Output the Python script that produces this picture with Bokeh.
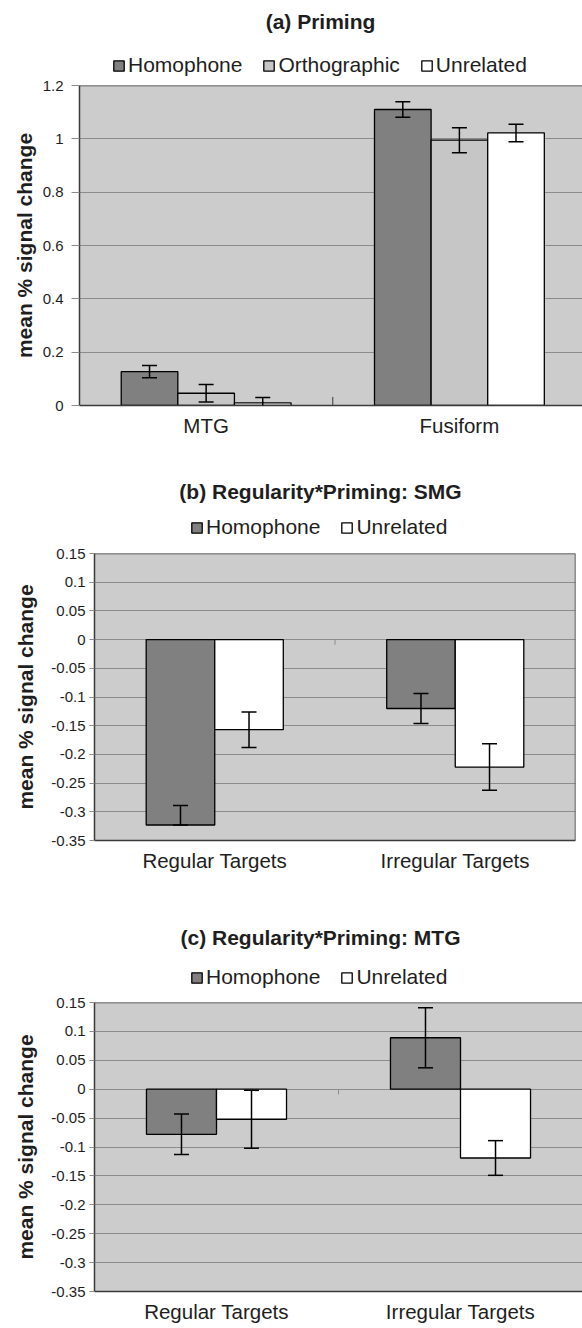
from bokeh.plotting import figure
from bokeh.models import (ColumnDataSource, Whisker, TeeHead, FixedTicker, Range1d,
                          Legend, LegendItem, Span, Label)
from bokeh.embed import file_html
from bokeh.resources import INLINE

# ---------------- data ----------------
a_title = "(a) Priming"
a_categories = ["MTG", "Fusiform"]
a_homophone = [0.127, 1.110]
a_homophone_err = [0.023, 0.029]
a_orthographic = [0.046, 0.995]
a_orthographic_err = [0.033, 0.047]
a_unrelated = [0.010, 1.022]
a_unrelated_err = [0.020, 0.033]
a_yticks = [0, 0.2, 0.4, 0.6, 0.8, 1, 1.2]
a_ytick_labels = ["0", "0.2", "0.4", "0.6", "0.8", "1", "1.2"]

b_title = "(b) Regularity*Priming: SMG"
c_title = "(c) Regularity*Priming: MTG"
bc_categories = ["Regular Targets", "Irregular Targets"]
b_homophone = [-0.323, -0.120]
b_homophone_err_up = [0.034, 0.026]
b_homophone_err_down = [0.0, 0.026]
b_unrelated = [-0.157, -0.222]
b_unrelated_err = [0.031, 0.0405]
c_homophone = [-0.078, 0.089]
c_homophone_err = [0.035, 0.052]
c_unrelated = [-0.052, -0.119]
c_unrelated_err = [0.050, 0.030]
bc_yticks = [0.15, 0.1, 0.05, 0, -0.05, -0.1, -0.15, -0.2, -0.25, -0.3, -0.35]
bc_ytick_labels = ["0.15", "0.1", "0.05", "0", "-0.05", "-0.1", "-0.15",
                   "-0.2", "-0.25", "-0.3", "-0.35"]

y_label = "mean % signal change"

# ---------------- styles ----------------
FONT = "Liberation Sans"
BG = "#CCCCCC"
GRID = "#8c8c8c"
DARK = "#3a3a3a"
TXT = "#1e1e1e"
COL_HOMO = "#808080"
COL_ORTH = "#C6C6C6"
COL_UNREL = "#FFFFFF"
W = 582
NAN = float("nan")


def make_header(title, names, colors, height, title_y, legend_x, legend_vy):
    h = figure(width=W, height=height, output_backend="svg", toolbar_location=None,
               x_range=Range1d(0, W), y_range=Range1d(height, 0),
               x_axis_location=None, y_axis_location=None,
               min_border=0, outline_line_color=None)
    h.grid.visible = False
    h.background_fill_color = "white"
    h.border_fill_color = "white"
    items = []
    for name, color in zip(names, colors):
        # legend proxy (NaN data: nothing is drawn in the header itself)
        r = h.vbar(x=[NAN], top=[NAN], width=1, fill_color=color, line_color="black",
                   line_width=1.3)
        items.append(LegendItem(label=name, renderers=[r]))
    legend = Legend(items=items, orientation="horizontal", location=(legend_x, legend_vy),
                    margin=0, padding=0, spacing=20, label_standoff=3,
                    glyph_width=13, glyph_height=13, label_text_font=FONT,
                    label_text_font_size="21px", label_text_color=TXT,
                    background_fill_alpha=0, border_line_color=None)
    h.add_layout(legend)
    h.add_layout(Label(x=320, y=title_y, text=title, text_align="center",
                       text_baseline="middle", text_font=FONT, text_font_size="21px",
                       text_font_style="bold", text_color=TXT))
    return h


def make_panel(categories, series, bar_width, x_end, y_rng, yticks, ylabels,
               height, mb_left, mb_right, mb_bottom, tick_out, tick_standoff,
               label_standoff, sep_len, sep_color, right_border, cat_standoff):
    p = figure(width=W, height=height, output_backend="svg", toolbar_location=None,
               x_range=Range1d(0, x_end), y_range=Range1d(*y_rng),
               min_border_left=mb_left, min_border_right=mb_right,
               min_border_top=8, min_border_bottom=mb_bottom)
    p.outline_line_color = None
    p.background_fill_color = BG
    p.border_fill_color = "white"

    n = len(series)
    for j, (name, vals, err_up, err_down, color) in enumerate(series):
        xs = [i + 0.5 + (j - (n - 1) / 2) * bar_width for i in range(len(categories))]
        src = ColumnDataSource(dict(x=xs, top=vals,
                                    upper=[v + e for v, e in zip(vals, err_up)],
                                    lower=[v - e for v, e in zip(vals, err_down)]))
        p.vbar(x="x", top="top", bottom=0, width=bar_width, source=src,
               fill_color=color, line_color="black", line_width=1.3)
        w = Whisker(source=src, base="x", upper="upper", lower="lower",
                    dimension="height", line_color="black", line_width=1.5,
                    level="overlay",
                    upper_head=TeeHead(size=15, line_color="black", line_width=1.5),
                    lower_head=TeeHead(size=15, line_color="black", line_width=1.5))
        p.add_layout(w)

    # separator tick between categories on the category axis (at 0)
    seps = list(range(1, len(categories)))
    p.segment(x0=seps, y0=[0] * len(seps), x1=seps, y1=[sep_len] * len(seps),
              line_color=sep_color, line_width=1)

    # y axis
    yax = p.yaxis[0]
    yax.ticker = FixedTicker(ticks=yticks)
    yax.major_label_overrides = {t: l for t, l in zip(yticks, ylabels)}
    yax.major_tick_in = 0
    yax.major_tick_out = tick_out
    yax.major_tick_line_color = GRID
    yax.minor_tick_line_color = None
    yax.axis_line_color = DARK
    yax.axis_line_width = 1.5
    yax.major_label_standoff = tick_standoff
    yax.major_label_text_font = FONT
    yax.major_label_text_font_size = "15px"
    yax.major_label_text_color = TXT
    yax.axis_label = y_label
    yax.axis_label_standoff = label_standoff
    yax.axis_label_text_font = FONT
    yax.axis_label_text_font_size = "21px"
    yax.axis_label_text_font_style = "bold"
    yax.axis_label_text_color = TXT

    p.ygrid.grid_line_color = GRID
    p.ygrid.grid_line_width = 1
    p.xgrid.visible = False

    # x axis with category labels
    xax = p.xaxis[0]
    centers = [i + 0.5 for i in range(len(categories))]
    xax.ticker = FixedTicker(ticks=centers)
    xax.major_label_overrides = {c: l for c, l in zip(centers, categories)}
    xax.major_tick_line_color = None
    xax.minor_tick_line_color = None
    xax.axis_line_color = DARK
    xax.axis_line_width = 1.5
    xax.major_label_standoff = cat_standoff
    xax.major_label_text_font = FONT
    xax.major_label_text_font_size = "20.5px"
    xax.major_label_text_color = TXT

    p.add_layout(Span(location=y_rng[1], dimension="width", line_color=DARK, line_width=1.5))
    if right_border:
        p.add_layout(Span(location=x_end, dimension="height", line_color=DARK, line_width=1.5))
    return p


ha = make_header(a_title, ["Homophone", "Orthographic", "Unrelated"],
                 [COL_HOMO, COL_ORTH, COL_UNREL], height=77, title_y=20.7,
                 legend_x=112, legend_vy=0)
pa = make_panel(a_categories,
                [("Homophone", a_homophone, a_homophone_err, a_homophone_err, COL_HOMO),
                 ("Orthographic", a_orthographic, a_orthographic_err, a_orthographic_err, COL_ORTH),
                 ("Unrelated", a_unrelated, a_unrelated_err, a_unrelated_err, COL_UNREL)],
                bar_width=0.2235, x_end=1.986, y_rng=(0, 1.2),
                yticks=a_yticks, ylabels=a_ytick_labels,
                height=378, mb_left=79, mb_right=0, mb_bottom=50,
                tick_out=8, tick_standoff=8, label_standoff=4,
                sep_len=0.032, sep_color=DARK, right_border=False, cat_standoff=2)

hb = make_header(b_title, ["Homophone", "Unrelated"], [COL_HOMO, COL_UNREL],
                 height=90, title_y=35.7, legend_x=190, legend_vy=6)
pb = make_panel(bc_categories,
                [("Homophone", b_homophone, b_homophone_err_up, b_homophone_err_down, COL_HOMO),
                 ("Unrelated", b_unrelated, b_unrelated_err, b_unrelated_err, COL_UNREL)],
                bar_width=0.285, x_end=2.0, y_rng=(-0.35, 0.15),
                yticks=bc_yticks, ylabels=bc_ytick_labels,
                height=355, mb_left=94, mb_right=7, mb_bottom=60,
                tick_out=5, tick_standoff=4, label_standoff=11,
                sep_len=-0.009, sep_color=GRID, right_border=True, cat_standoff=2)

hc = make_header(c_title, ["Homophone", "Unrelated"], [COL_HOMO, COL_UNREL],
                 height=94, title_y=36.7, legend_x=190, legend_vy=5)
pc = make_panel(bc_categories,
                [("Homophone", c_homophone, c_homophone_err, c_homophone_err, COL_HOMO),
                 ("Unrelated", c_unrelated, c_unrelated_err, c_unrelated_err, COL_UNREL)],
                bar_width=0.287, x_end=2.0, y_rng=(-0.35, 0.15),
                yticks=bc_yticks, ylabels=bc_ytick_labels,
                height=333, mb_left=94, mb_right=0, mb_bottom=36,
                tick_out=5, tick_standoff=4, label_standoff=11,
                sep_len=-0.009, sep_color=GRID, right_border=False, cat_standoff=2)

# separate roots, stacked vertically (avoids frame alignment between plots)
open("out.html", "w").write(file_html([ha, pa, hb, pb, hc, pc], INLINE))
